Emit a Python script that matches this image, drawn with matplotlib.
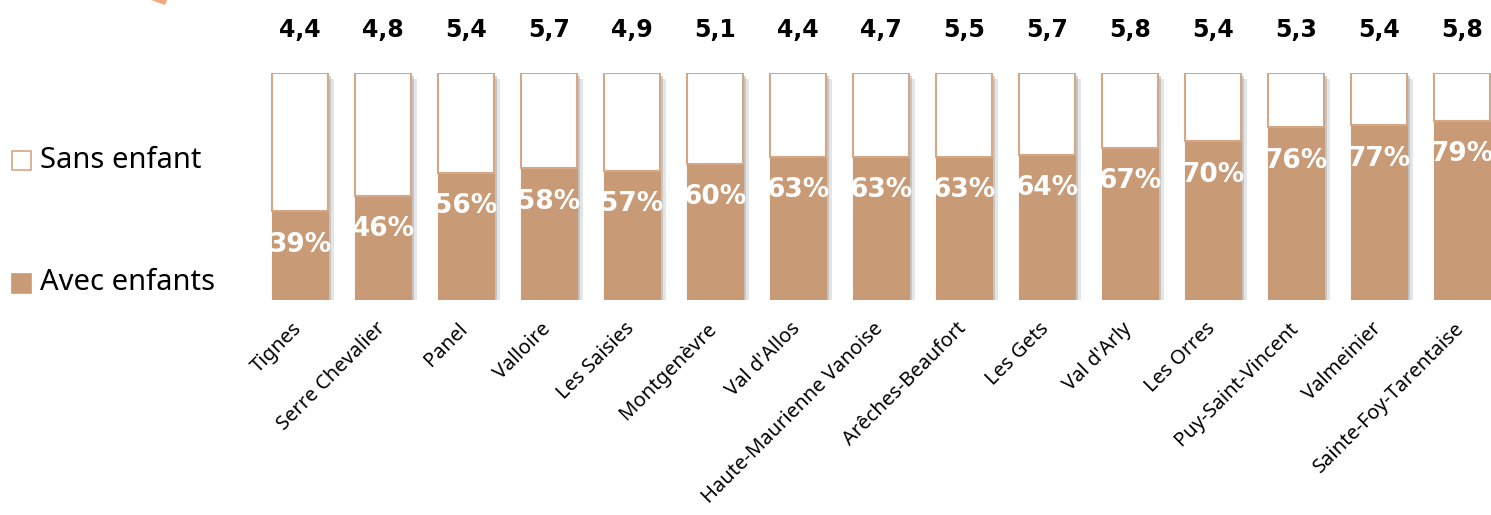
import numpy as np
import matplotlib
matplotlib.use("Agg")
import matplotlib.pyplot as plt
import matplotlib.patheffects as pe
import matplotlib.transforms as mtransforms
from matplotlib.patches import Polygon, Rectangle

plt.rcParams['font.family'] = ['Noto Sans', 'DejaVu Sans']

# data
stations = ["Tignes", "Serre Chevalier", "Panel", "Valloire", "Les Saisies",
            "Montgenèvre", "Val d'Allos", "Haute-Maurienne Vanoise",
            "Arêches-Beaufort", "Les Gets", "Val d'Arly", "Les Orres",
            "Puy-Saint-Vincent", "Valmeinier", "Sainte-Foy-Tarentaise"]
avec_enfants = [39, 46, 56, 58, 57, 60, 63, 63, 63, 64, 67, 70, 76, 77, 79]
taille_groupe = ["4,4", "4,8", "5,4", "5,7", "4,9", "5,1", "4,4", "4,7",
                 "5,5", "5,7", "5,8", "5,4", "5,3", "5,4", "5,8"]

brown = "#C99A76"
edge = "#D4A887"

fig = plt.figure(figsize=(14.91, 5.15), dpi=100)
ax = fig.add_axes([0.1734, 0.4175, 0.835, 0.4408])

x = np.arange(len(stations))
avec = np.array(avec_enfants) / 100.0
sans = 1 - avec
w = 0.68

# soft shadow behind the whole stacked bar
back = ax.bar(x, np.ones(len(x)), w, color="white", edgecolor="none", zorder=1)
for r in back:
    r.set_path_effects([pe.SimplePatchShadow(offset=(2, -2), shadow_rgbFace="#777777", alpha=0.3),
                        pe.SimplePatchShadow(offset=(4, -4), shadow_rgbFace="#999999", alpha=0.25),
                        pe.Normal()])
bars_avec = ax.bar(x, avec, w, color=brown, edgecolor=brown, linewidth=0.8, zorder=2)
ax.bar(x, sans, w, bottom=avec, color="white", edgecolor=edge, linewidth=1.5, zorder=2)

for i in range(len(stations)):
    t = ax.text(x[i], avec[i] - 0.09, f"{avec_enfants[i]}%", ha="center", va="top",
                color="white", fontsize=19, fontweight="bold",
                family="DejaVu Sans", zorder=3)
    t.set_clip_path(bars_avec[i])
    ax.text(x[i], 1.19, taille_groupe[i], ha="center", va="center",
            color="black", fontsize=17, fontweight="bold", family="DejaVu Sans")

ax.set_xlim(-0.5, 14.5)
ax.set_ylim(0, 1)
ax.set_xticks(x)
ax.set_xticklabels(stations, rotation=45, ha="right", rotation_mode="anchor", fontsize=14.5)
ax.tick_params(axis="x", length=0, pad=15)
shift = mtransforms.ScaledTranslation(-8 / 100, 2 / 100, fig.dpi_scale_trans)
for lab in ax.get_xticklabels():
    lab.set_transform(lab.get_transform() + shift)
ax.set_yticks([])
for s in ax.spines.values():
    s.set_visible(False)

# legend
fig.patches.append(Rectangle((12 / 1491, 1 - 170 / 515), 19 / 1491, 19 / 515,
                             transform=fig.transFigure, facecolor="white",
                             edgecolor=edge, linewidth=1.2))
fig.text(40 / 1491, 1 - 160 / 515, "Sans enfant", fontsize=21, va="center")
fig.patches.append(Rectangle((12 / 1491, 1 - 293 / 515), 19 / 1491, 19 / 515,
                             transform=fig.transFigure, facecolor=brown,
                             edgecolor=brown, linewidth=1.2))
fig.text(40 / 1491, 1 - 283 / 515, "Avec enfants", fontsize=21, va="center")

# orange arrow tip cut at the top
fig.patches.append(Polygon([(151 / 1491, 1.0), (167 / 1491, 1.0), (165 / 1491, 1 - 5 / 515)],
                           closed=True, transform=fig.transFigure,
                           facecolor="#F5A97A", edgecolor="none"))

fig.savefig("out.png", dpi=100)
